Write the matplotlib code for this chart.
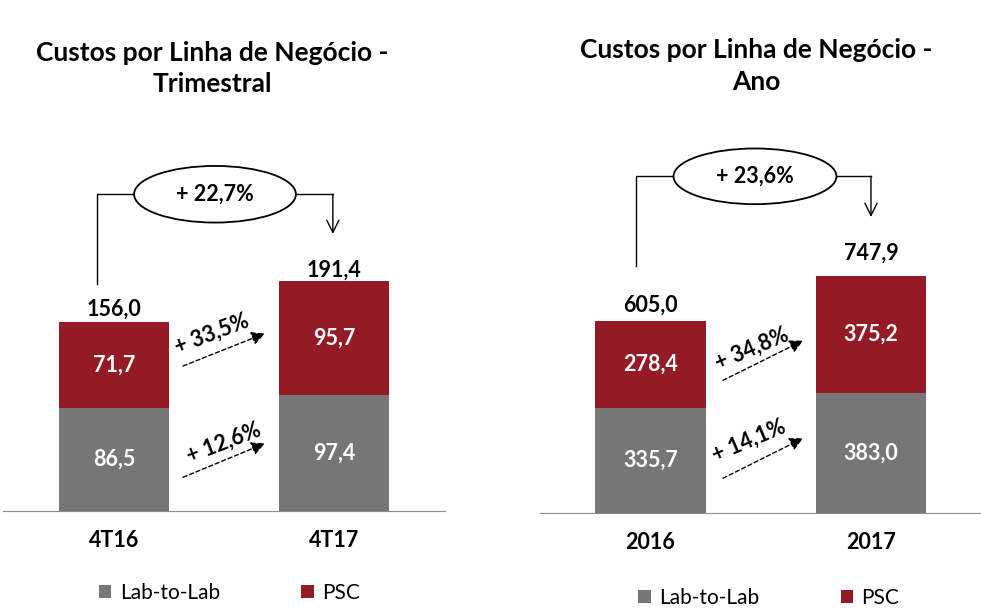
import matplotlib.pyplot as plt
from matplotlib.patches import Ellipse

plt.rcParams['font.family'] = ['Lato', 'DejaVu Sans']

GRAY = '#767676'
RED = '#941B26'
SIZE = 15.5

series = ['Lab-to-Lab', 'PSC']

# Custos por Linha de Negocio - Trimestral
quarters = ['4T16', '4T17']
quarter_lab = [86.5, 97.4]
quarter_psc = [71.7, 95.7]
quarter_total = [156.0, 191.4]
quarter_growth = ['+ 22,7%', '+ 12,6%', '+ 33,5%']  # total, lab-to-lab, psc

# Custos por Linha de Negocio - Ano
years = ['2016', '2017']
year_lab = [335.7, 383.0]
year_psc = [278.4, 375.2]
year_total = [605.0, 747.9]
year_growth = ['+ 23,6%', '+ 14,1%', '+ 34,8%']


def br(v):
    return f'{v:.1f}'.replace('.', ',')


def panel(ax, cats, lab, psc, total, growth, lay):
    x = range(len(cats))
    b1 = ax.bar(x, lab, width=0.5, color=GRAY)
    b2 = ax.bar(x, psc, width=0.5, bottom=lab, color=RED)

    ax.set_xlim(*lay['xlim'])
    ax.set_ylim(0, lay['ymax'])
    for s in ['top', 'left', 'right']:
        ax.spines[s].set_visible(False)
    ax.spines['bottom'].set_color('#8c8c8c')
    ax.set_yticks([])
    ax.set_xticks(list(x))
    ax.set_xticklabels(cats, fontsize=SIZE, fontweight='bold')
    ax.tick_params(axis='x', length=0, pad=14)

    for i in x:
        ax.text(i, lab[i] / 2, br(lab[i]), ha='center', va='center',
                color='white', fontsize=SIZE, fontweight='bold')
        ax.text(i, lab[i] + psc[i] / 2, br(psc[i]), ha='center', va='center',
                color='white', fontsize=SIZE, fontweight='bold')
        ax.annotate(br(total[i]), (i, total[i]), xytext=(0, lay['tot_off'][i]),
                    textcoords='offset pixels', ha='center', va='center',
                    fontsize=SIZE, fontweight='bold')

    # total growth bracket with ellipse
    cx, cy, w, h = lay['ellipse']
    ax.add_patch(Ellipse((cx, cy), w, h, facecolor='white', edgecolor='black',
                         lw=1.3, clip_on=False, zorder=4))
    ax.text(cx, cy, growth[0], ha='center', va='center', fontsize=SIZE,
            fontweight='bold', zorder=5)
    xl, yl = lay['bracket_left']
    ax.plot([xl, xl, cx - w / 2], [yl, cy, cy], color='black', lw=1, clip_on=False)
    xr, yr = lay['bracket_right']
    ax.plot([cx + w / 2, xr], [cy, cy], color='black', lw=1, clip_on=False)
    ax.annotate('', xy=(xr, yr), xytext=(xr, cy),
                arrowprops=dict(arrowstyle='->', lw=1, color='black',
                                mutation_scale=22, shrinkA=0, shrinkB=0))

    # dashed growth arrows per segment
    for (start, end, pos, rot), txt in zip(lay['arrows'], growth[1:]):
        ax.annotate('', xy=end, xytext=start,
                    arrowprops=dict(arrowstyle='-|>', lw=1, color='black',
                                    ls=(0, (3, 2)), mutation_scale=20,
                                    shrinkA=0, shrinkB=0))
        ax.text(pos[0], pos[1], txt, rotation=rot, rotation_mode='anchor',
                ha='center', va='center', fontsize=SIZE, fontweight='bold')

    ax.legend([b1, b2], series, ncol=2, loc='center', bbox_to_anchor=lay['legend'],
              frameon=False, fontsize=15, handlelength=0.6, handleheight=0.6,
              handletextpad=0.4, columnspacing=3.9)


fig = plt.figure(figsize=(9.81, 6.10), dpi=100)

ax1 = fig.add_axes([3 / 981, 99 / 610, 442 / 981, 401 / 610])
panel(ax1, quarters, quarter_lab, quarter_psc, quarter_total, quarter_growth, {
    'xlim': (-0.505, 1.505),
    'ymax': 336.5,
    'tot_off': [16, 13],
    'ellipse': (0.459, 265.8, 0.736, 47.5),
    'bracket_left': (-0.077, 190.8),
    'bracket_right': (0.995, 232.5),
    'arrows': [((0.314, 28.3), (0.686, 56.7), (0.50, 57.5), 21),
               ((0.314, 121.7), (0.686, 149.0), (0.445, 149.0), 21)],
    'legend': (0.512, -0.204),
})

ax2 = fig.add_axes([540 / 981, 97 / 610, 441 / 981, 403 / 610])
panel(ax2, years, year_lab, year_psc, year_total, year_growth, {
    'xlim': (-0.501, 1.499),
    'ymax': 1288,
    'tot_off': [18, 26],
    'ellipse': (0.474, 1076, 0.739, 178),
    'bracket_left': (-0.066, 790),
    'bracket_right': (1.0, 946),
    'arrows': [((0.329, 111), (0.692, 239), (0.447, 232), 23),
               ((0.329, 424), (0.692, 551), (0.46, 525), 23)],
    'legend': (0.519, -0.211),
})

fig.text(212 / 981, 1 - 68.5 / 610, 'Custos por Linha de Negócio -\nTrimestral',
         ha='center', va='center', fontsize=19, fontweight='bold', linespacing=1.35)
fig.text(756 / 981, 1 - 66 / 610, 'Custos por Linha de Negócio -\nAno',
         ha='center', va='center', fontsize=19, fontweight='bold', linespacing=1.35)

fig.savefig('out.png', dpi=100)
